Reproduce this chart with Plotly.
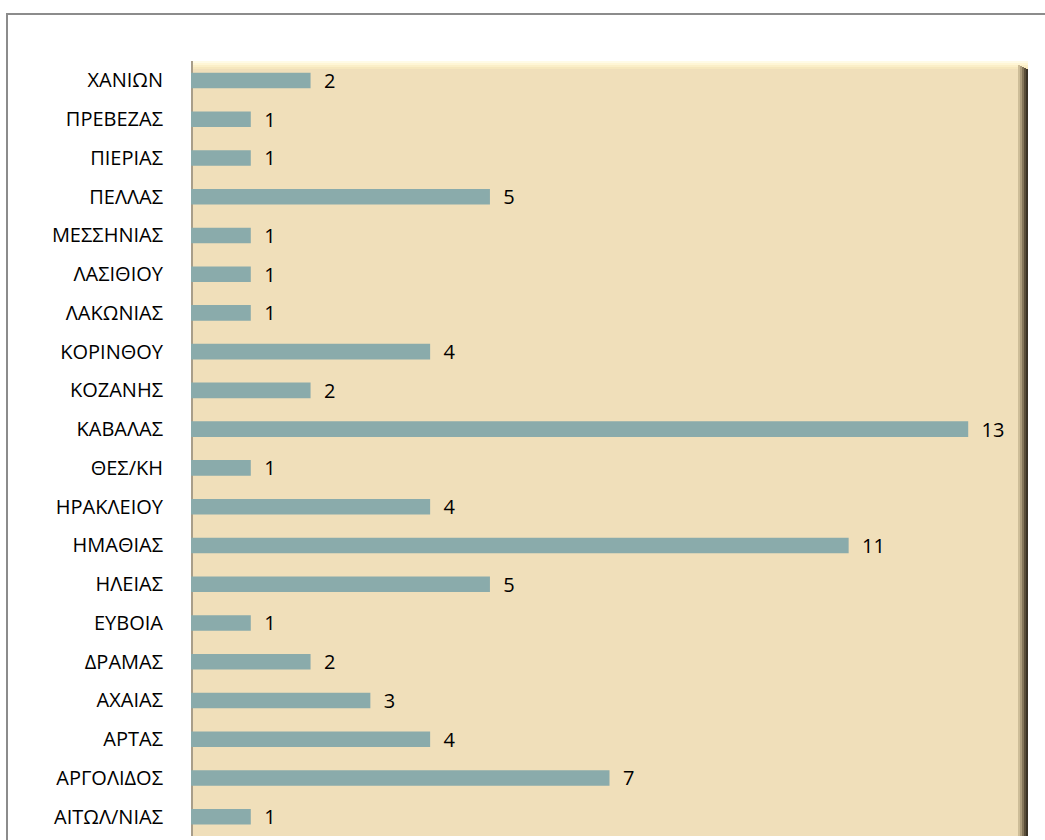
import plotly.graph_objects as go

categories = ["ΑΙΤΩΛ/ΝΙΑΣ", "ΑΡΓΟΛΙΔΟΣ", "ΑΡΤΑΣ", "ΑΧΑΙΑΣ", "ΔΡΑΜΑΣ", "ΕΥΒΟΙΑ", "ΗΛΕΙΑΣ",
              "ΗΜΑΘΙΑΣ", "ΗΡΑΚΛΕΙΟΥ", "ΘΕΣ/ΚΗ", "ΚΑΒΑΛΑΣ", "ΚΟΖΑΝΗΣ", "ΚΟΡΙΝΘΟΥ", "ΛΑΚΩΝΙΑΣ",
              "ΛΑΣΙΘΙΟΥ", "ΜΕΣΣΗΝΙΑΣ", "ΠΕΛΛΑΣ", "ΠΙΕΡΙΑΣ", "ΠΡΕΒΕΖΑΣ", "ΧΑΝΙΩΝ"]
values = [1, 7, 4, 3, 2, 1, 5, 11, 4, 1, 13, 2, 4, 1, 1, 1, 5, 1, 1, 2]

W, H = 1045, 840
L, R, T, B = 191, 17, 61, 4
pw, ph = W - L - R, H - T - B

def px_x(p):
    return (p - L) / pw

def px_y(p):
    return (H - B - p) / ph

fig = go.Figure(go.Bar(
    y=categories, x=values, orientation="h",
    marker=dict(color="#8aabab", line=dict(width=0)),
    text=values, texttemplate="\u00a0\u00a0%{x}", textposition="outside",
    constraintext="none",
    textfont=dict(family="Open Sans", size=20, color="#000000"),
    cliponaxis=False,
))

shapes = []
# outer chart border
shapes.append(dict(type="rect", xref="paper", yref="paper",
                   x0=px_x(7), x1=px_x(1047), y0=px_y(850), y1=px_y(14),
                   line=dict(color="#8c8c8c", width=2), fillcolor="rgba(0,0,0,0)", layer="below"))
# top highlight bevel
for i, c in enumerate(["#fffbe6", "#fff6d6", "#fbefc8", "#f6e7bd"]):
    shapes.append(dict(type="rect", xref="paper", yref="paper",
                       x0=0, x1=1, y0=1 - (i + 1) * 2 / ph, y1=1 - i * 2 / ph,
                       line=dict(width=0), fillcolor=c, layer="below"))
# right dark bevel
for i, c in enumerate(["#3b3326", "#5a4e39", "#85765a", "#ad9d7c", "#cdbd98"]):
    shapes.append(dict(type="rect", xref="paper", yref="paper",
                       x0=1 - (i + 1) * 2 / pw, x1=1 - i * 2 / pw, y0=0, y1=1 - (8 - i) / ph,
                       line=dict(width=0), fillcolor=c, layer="below"))
# left thin shadow
shapes.append(dict(type="rect", xref="paper", yref="paper",
                   x0=0, x1=2 / pw, y0=0, y1=1,
                   line=dict(width=0), fillcolor="#a89e8a", layer="below"))

fig.update_layout(
    width=W, height=H,
    margin=dict(l=L, r=R, t=T, b=B, autoexpand=False),
    paper_bgcolor="white", plot_bgcolor="#f0dfba",
    bargap=0.6, showlegend=False,
    shapes=shapes,
    xaxis=dict(range=[0, 14], visible=False, showgrid=False, zeroline=False),
    yaxis=dict(range=[-0.5, 19.5], showgrid=False, zeroline=False, showline=False,
               ticks="", ticklabelstandoff=27,
               tickfont=dict(family="Open Sans", size=20, color="#000000")),
)

fig.write_html("out.html", config={"displayModeBar": False},
               post_script="document.body.style.margin='0';document.body.style.overflow='hidden';")
